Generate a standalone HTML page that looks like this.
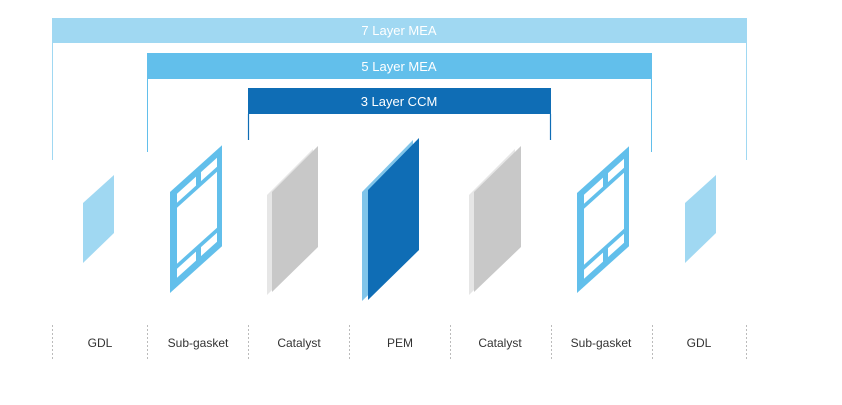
<!DOCTYPE html>
<html><head><meta charset="utf-8"><style>
body{margin:0;background:#fff;}
svg{display:block;font-family:"Liberation Sans",sans-serif;}
</style></head><body>
<svg width="842" height="405" viewBox="0 0 842 405">
<rect x="52" y="18" width="695" height="25" fill="#a0d8f2"/>
<line x1="52.5" y1="43" x2="52.5" y2="160" stroke="#a0d8f2" stroke-width="1"/>
<line x1="746.5" y1="43" x2="746.5" y2="160" stroke="#a0d8f2" stroke-width="1"/>
<text x="399" y="35" text-anchor="middle" font-size="13" fill="#fff">7 Layer MEA</text>
<rect x="147" y="53" width="505" height="26" fill="#62bfeb"/>
<line x1="147.5" y1="79" x2="147.5" y2="152" stroke="#62bfeb" stroke-width="1"/>
<line x1="651.5" y1="79" x2="651.5" y2="152" stroke="#62bfeb" stroke-width="1"/>
<text x="399" y="71" text-anchor="middle" font-size="13" fill="#fff">5 Layer MEA</text>
<rect x="248" y="88" width="303" height="26" fill="#0f6db5"/>
<line x1="248.5" y1="114" x2="248.5" y2="140" stroke="#0f6db5" stroke-width="1.2"/>
<line x1="550.5" y1="114" x2="550.5" y2="140" stroke="#0f6db5" stroke-width="1.2"/>
<text x="399" y="106" text-anchor="middle" font-size="13" fill="#fff">3 Layer CCM</text>

<polygon points="83,203 114,175 114,233 83,263" fill="#a0d8f2"/>
<polygon points="685,203 716,175 716,233 685,263" fill="#a0d8f2"/>

<g transform="matrix(1,-0.9,0,1,170,192)">
<rect x="0" y="0" width="52" height="101" fill="#62bfeb"/>
<rect x="7" y="8" width="19" height="9" fill="#fff"/>
<rect x="31" y="8" width="16" height="9" fill="#fff"/>
<rect x="7" y="22" width="40" height="56" fill="#fff"/>
<rect x="7" y="83" width="19" height="9" fill="#fff"/>
<rect x="31" y="83" width="16" height="9" fill="#fff"/>
</g>
<g transform="matrix(1,-0.9,0,1,577,193)">
<rect x="0" y="0" width="52" height="100" fill="#62bfeb"/>
<rect x="7" y="8" width="19" height="9" fill="#fff"/>
<rect x="31" y="8" width="16" height="9" fill="#fff"/>
<rect x="7" y="22" width="40" height="56" fill="#fff"/>
<rect x="7" y="83" width="19" height="9" fill="#fff"/>
<rect x="31" y="83" width="16" height="9" fill="#fff"/>
</g>

<polygon points="267,195 313,149 313,249 267,295" fill="#e6e6e6"/>
<polygon points="272,192 318,146 318,247 272,292" fill="#c8c8c8"/>
<polygon points="469,195 515,149 515,249 469,295" fill="#e6e6e6"/>
<polygon points="474,192 521,146 521,247 474,292" fill="#c8c8c8"/>

<polygon points="362,192 413,140 413,252 362,301" fill="#80c5ea"/>
<polygon points="368,190 419,138 419,250 368,300" fill="#0f6db5"/>

<g stroke="#bbb" stroke-width="1" stroke-dasharray="2,2">
<line x1="52.5" y1="325" x2="52.5" y2="361"/>
<line x1="147.5" y1="325" x2="147.5" y2="361"/>
<line x1="248.5" y1="325" x2="248.5" y2="361"/>
<line x1="349.5" y1="325" x2="349.5" y2="361"/>
<line x1="450.5" y1="325" x2="450.5" y2="361"/>
<line x1="551.5" y1="325" x2="551.5" y2="361"/>
<line x1="652.5" y1="325" x2="652.5" y2="361"/>
<line x1="746.5" y1="325" x2="746.5" y2="361"/>
</g>
<g font-size="12" fill="#333" text-anchor="middle">
<text x="100" y="347">GDL</text>
<text x="198" y="347">Sub-gasket</text>
<text x="299" y="347">Catalyst</text>
<text x="400" y="347">PEM</text>
<text x="500" y="347">Catalyst</text>
<text x="601" y="347">Sub-gasket</text>
<text x="699" y="347">GDL</text>
</g>
</svg>
</body></html>
